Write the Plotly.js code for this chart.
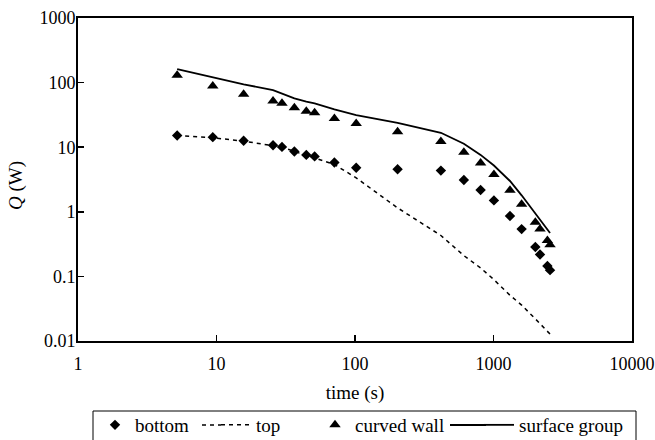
<!DOCTYPE html>
<html>
<head>
<meta charset="utf-8">
<script src="https://cdn.plot.ly/plotly-3.0.1.min.js"></script>
<style>html,body{margin:0;padding:0;background:#fff;}#chart{width:655px;height:440px;}</style>
</head>
<body>
<div id="chart"></div>
<script>
const time = [5.2, 9.4, 15.7, 25.6, 29.7, 36.5, 44.5, 51.1, 71, 102, 203, 417, 611, 807, 1007, 1315, 1596, 2005, 2167, 2450, 2560];
const bottom = [15.2, 14.3, 12.6, 10.7, 10.1, 8.6, 7.6, 7.2, 5.8, 4.8, 4.55, 4.34, 3.1, 2.18, 1.5, 0.86, 0.54, 0.285, 0.218, 0.145, 0.125];
const top_ = [15.2, 14.0, 12.4, 10.6, 10.0, 8.6, 7.5, 6.9, 5.4, 3.35, 1.15, 0.43, 0.21, 0.135, 0.089, 0.051, 0.036, 0.022, 0.0186, 0.014, 0.0128];
const curvedWall = [130, 88.5, 65.8, 51.8, 47.7, 40.9, 36.0, 34.2, 27.9, 23.2, 17.3, 12.3, 8.36, 5.7, 3.77, 2.15, 1.31, 0.69, 0.54, 0.36, 0.31];
const surfaceGroup = [161, 120, 94, 76.7, 67.5, 57, 50.7, 47.8, 38.5, 31.4, 23.9, 16.7, 11.3, 7.6, 5.2, 3.0, 1.8, 0.95, 0.75, 0.52, 0.47];
const names = ['bottom', 'top', 'curved wall', 'surface group'];
const xTicks = [1, 10, 100, 1000, 10000];
const yTicks = [0.01, 0.1, 1, 10, 100, 1000];

const FONT = 'Liberation Serif';
// plot area in px: x 78..632, y 18..341
const PL = 78, PW = 554, PB = 341, PH = 323;
const px2x = p => (p - PL) / PW;
const px2y = p => (PB - p) / PH;

const traces = [
  {x: time, y: bottom, name: names[0], mode: 'markers', type: 'scatter', legend: 'legend',
   marker: {symbol: 'diamond', size: 8, color: '#000'}},
  {x: time, y: top_, name: names[1], mode: 'lines', type: 'scatter', legend: 'legend2',
   line: {color: '#000', width: 1.5, dash: '4px,4px'}},
  {x: time, y: curvedWall, name: names[2], mode: 'markers', type: 'scatter', legend: 'legend3',
   marker: {symbol: 'triangle-up', size: 10, color: '#000'}},
  {x: time, y: surfaceGroup, name: names[3], mode: 'lines', type: 'scatter', legend: 'legend4',
   line: {color: '#000', width: 1.8}}
];
const legFont = {family: FONT, size: 19, color: '#000'};
function leg(px) {
  return {orientation: 'h', x: px2x(px), xanchor: 'left', y: px2y(406), yanchor: 'top',
          borderwidth: 0, bgcolor: 'rgba(0,0,0,0)', font: legFont};
}
const LEGY = 425; // legend sample line level (px)
const layout = {
  width: 655, height: 440,
  margin: {l: 78, r: 23, t: 18, b: 99, autoexpand: false},
  paper_bgcolor: '#fff', plot_bgcolor: '#fff',
  font: {family: FONT, size: 18, color: '#000'},
  showlegend: true,
  legend: leg(95),
  legend2: leg(216),
  legend3: leg(315),
  legend4: leg(479),
  shapes: [
    {type: 'rect', xref: 'paper', yref: 'paper', x0: px2x(93), x1: px2x(636), y0: px2y(411), y1: px2y(445),
     line: {color: '#000', width: 1}, fillcolor: 'rgba(0,0,0,0)'},
    // extend legend line samples to the reference length
    {type: 'line', xref: 'paper', yref: 'paper', x0: px2x(202), x1: px2x(221), y0: px2y(LEGY), y1: px2y(LEGY),
     line: {color: '#000', width: 1.5, dash: '4px,4px'}},
    {type: 'line', xref: 'paper', yref: 'paper', x0: px2x(450), x1: px2x(486), y0: px2y(LEGY), y1: px2y(LEGY),
     line: {color: '#000', width: 1.8}}
  ],
  annotations: [
    {text: '<i>Q</i> (W)', xref: 'paper', yref: 'paper', x: px2x(16), y: px2y(186),
     xanchor: 'center', yanchor: 'middle', textangle: -90, showarrow: false,
     font: {family: FONT, size: 19, color: '#000'}}
  ],
  xaxis: {type: 'log', range: [0, 4], tickvals: xTicks, ticktext: xTicks.map(String),
          ticks: 'inside', ticklen: 6, tickwidth: 1.5, tickcolor: '#000', ticklabelstandoff: 5,
          showline: true, linecolor: '#000', linewidth: 2, mirror: true,
          showgrid: false, zeroline: false,
          tickfont: {family: FONT, size: 18},
          title: {text: 'time (s)', font: {family: FONT, size: 19}, standoff: 13}},
  yaxis: {type: 'log', range: [-2, 3], tickvals: yTicks, ticktext: yTicks.map(String),
          ticks: 'inside', ticklen: 6, tickwidth: 1.5, tickcolor: '#000', ticklabelstandoff: -3,
          showline: true, linecolor: '#000', linewidth: 2, mirror: true,
          showgrid: false, zeroline: false,
          tickfont: {family: FONT, size: 18}}
};
Plotly.newPlot('chart', traces, layout, {displayModeBar: false, staticPlot: true});
</script>
</body>
</html>
